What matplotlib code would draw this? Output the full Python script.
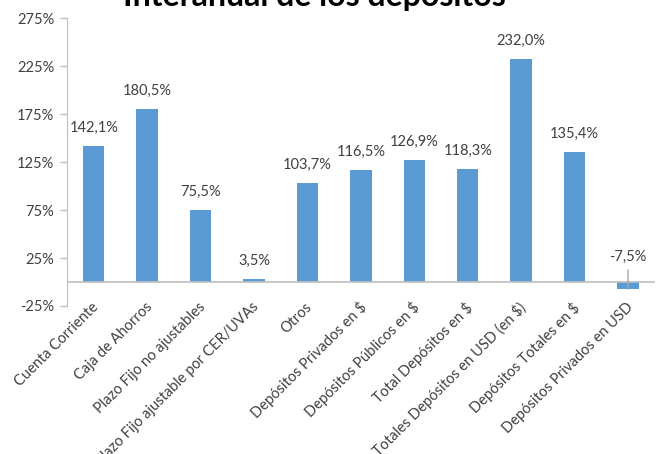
"""Variación interanual de los depósitos - bar chart."""

import matplotlib.pyplot as plt
from matplotlib.ticker import FuncFormatter

categories = [
    "Cuenta Corriente",
    "Caja de Ahorros",
    "Plazo Fijo no ajustables",
    "Plazo Fijo ajustable por CER/UVAs",
    "Otros",
    "Depósitos Privados en $",
    "Depósitos Públicos en $",
    "Total Depósitos en $",
    "Totales Depósitos en USD (en $)",
    "Depósitos Totales en $",
    "Depósitos Privados en USD",
]
values = [142.1, 180.5, 75.5, 3.5, 103.7, 116.5, 126.9, 118.3, 232.0, 135.4, -7.5]
y_ticks = [-25, 25, 75, 125, 175, 225, 275]

BAR_COLOR = "#5B9BD5"
AXIS_COLOR = "#BFBFBF"
TEXT_COLOR = "#404040"

plt.rcParams["font.family"] = ["Lato", "DejaVu Sans"]

fig = plt.figure(figsize=(6.6, 4.54), dpi=100)
ax = fig.add_axes([0.1015, 0.326, 0.8905, 0.634])

positions = list(range(len(categories)))
ax.bar(positions, values, width=0.4, color=BAR_COLOR, zorder=2)

ax.set_xlim(-0.5, len(categories) - 0.5)
ax.set_ylim(-25, 275)
ax.set_yticks(y_ticks)
ax.yaxis.set_major_formatter(FuncFormatter(lambda v, _: f"{v:.0f}%"))
ax.tick_params(axis="y", colors=AXIS_COLOR, labelcolor=TEXT_COLOR, labelsize=10.5,
               length=5, width=1, pad=4)
ax.set_xticks([])

# category labels hang from the zero line, as in the spreadsheet chart
for x, name in zip(positions, categories):
    ax.annotate(name, (x, 0), xytext=(2, -16.5), textcoords="offset points",
                rotation=45, rotation_mode="anchor", ha="right", va="center",
                fontsize=10.5, color=TEXT_COLOR, annotation_clip=False)

for side in ("top", "right", "bottom"):
    ax.spines[side].set_visible(False)
ax.spines["left"].set_color(AXIS_COLOR)
ax.axhline(0, color=AXIS_COLOR, linewidth=1.2, zorder=3)

for x, v in zip(positions, values):
    label = f"{v:.1f}%".replace(".", ",")
    if v >= 0:
        ax.annotate(label, (x, v), xytext=(0, 8), textcoords="offset points",
                    ha="center", va="bottom", fontsize=10.5, color=TEXT_COLOR)
    else:
        ax.annotate(label, (x, v), xytext=(0, 18), textcoords="offset points",
                    ha="center", va="bottom", fontsize=10.5, color=TEXT_COLOR,
                    arrowprops=dict(arrowstyle="-", color="#A6A6A6", lw=1,
                                    shrinkA=2, shrinkB=0))

fig.text(0.476, 0.986, "Interanual de los depósitos", ha="center", va="baseline",
         fontsize=23, fontweight="bold", color="black")

fig.savefig("out.png", dpi=100)
